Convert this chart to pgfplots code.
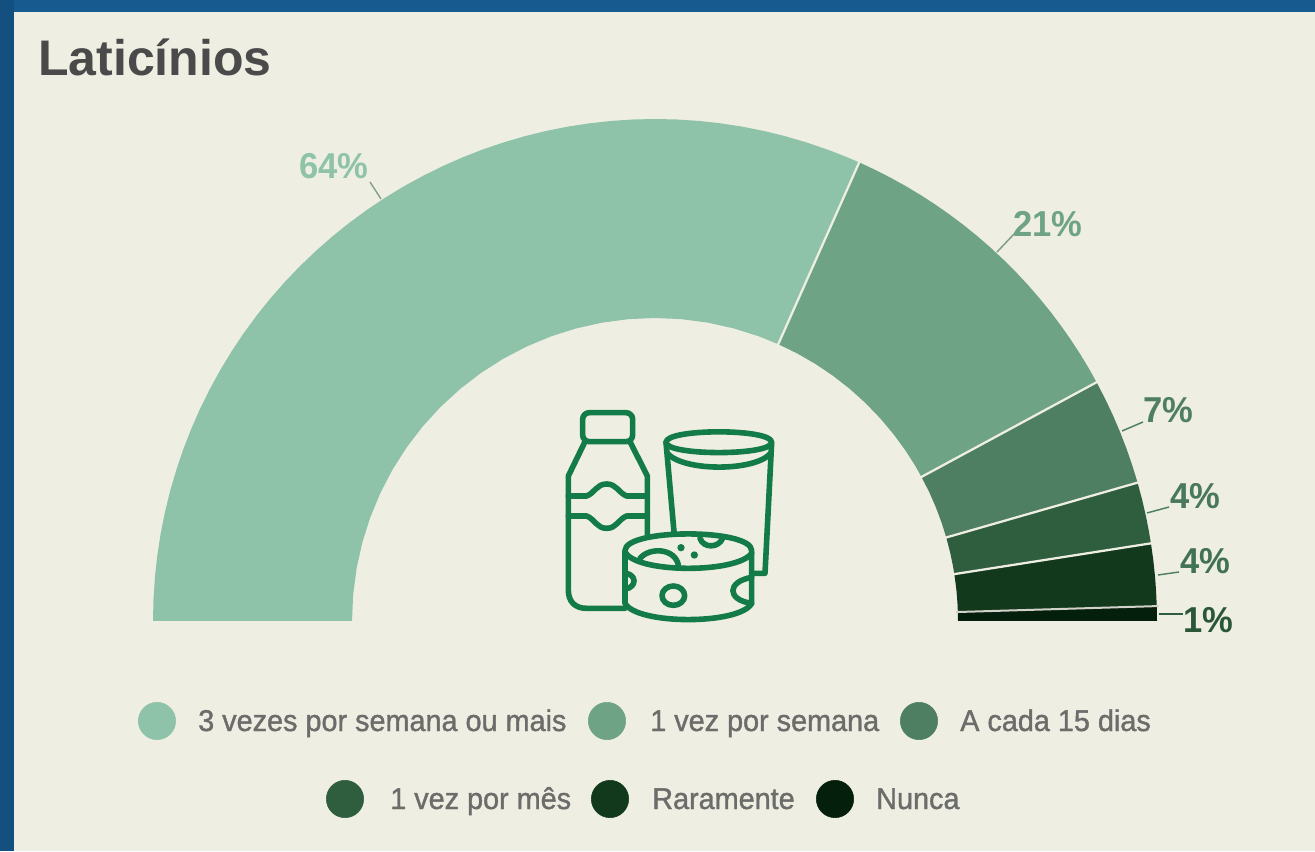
\documentclass[border=0pt]{standalone}
\usepackage{pgfplots}
\pgfplotsset{compat=1.18}
\usepackage{fontspec}
\setmainfont{Liberation Sans}
\newfontfamily\titlef{Liberation Sans}[BoldFont={Liberation Sans Bold}]
\newfontfamily\labf{Liberation Sans Bold}[FakeStretch=0.96]
\newfontfamily\legf{Liberation Sans}[FakeStretch=0.96,FakeBold=1.2]
\definecolor{bgA}{HTML}{EFEEE3}
\definecolor{blueA}{HTML}{175A90}
\definecolor{blueB}{HTML}{13507F}
\definecolor{cA}{HTML}{8FC3A9}
\definecolor{cB}{HTML}{6FA385}
\definecolor{cC}{HTML}{4F7F62}
\definecolor{cD}{HTML}{2F5E3E}
\definecolor{cE}{HTML}{12391C}
\definecolor{cF}{HTML}{04200C}
\definecolor{tlc}{HTML}{4A4A4A}
\definecolor{lgc}{HTML}{6C6C6A}
\definecolor{ico}{HTML}{137B47}
\definecolor{lead}{HTML}{7E9C8B}
\begin{document}
\begin{tikzpicture}
% background, in picture pixels (origin top left)
\begin{scope}[shift={(0,638.25pt)},x=0.75pt,y=-0.75pt]
\fill[blueB] (0,0) rectangle (1315,851);
\fill[blueA] (14,0) rectangle (1315,12);
\fill[bgA] (14,12) rectangle (1315,851);
\end{scope}
\begin{axis}[
  at={(0,0)},anchor=south west,
  scale only axis,width=986.25pt,height=638.25pt,
  xmin=-655,xmax=660,ymin=-230,ymax=621,
  hide axis,clip=false,no markers]
% 64 %
\addplot[data cs=polar,fill=cA,draw=none] coordinates {
(180,502)(177.5,502)(175,502)(172.5,502)(170,502)(167.5,502)(165,502)(162.5,502)(160,502)(157.5,502)(155,502)(152.5,502)(150,502)(147.5,502)(145,502)(142.5,502)(140,502)(137.5,502)(135,502)(132.5,502)(130,502)(127.5,502)(125,502)(122.5,502)(120,502)(117.5,502)(115,502)(112.5,502)(110,502)(107.5,502)(105,502)(102.5,502)(100,502)(97.5,502)(95,502)(92.5,502)(90,502)(87.5,502)(85,502)(82.5,502)(80,502)(77.5,502)(75,502)(72.5,502)(70,502)(68,502)(66,502)
(66,303)(70,303)(75,303)(80,303)(85,303)(90,303)(95,303)(100,303)(105,303)(110,303)(115,303)(120,303)(125,303)(130,303)(135,303)(140,303)(145,303)(150,303)(155,303)(160,303)(165,303)(170,303)(175,303)(180,303)};
% 21 %
\addplot[data cs=polar,fill=cB,draw=none] coordinates {
(66,502)(64,502)(62,502)(60,502)(58,502)(56,502)(54,502)(52,502)(50,502)(48,502)(46,502)(44,502)(42,502)(40,502)(38,502)(36,502)(34,502)(32,502)(30,502)(28.4,502)
(28.4,303)(31,303)(34,303)(38,303)(42,303)(46,303)(50,303)(54,303)(58,303)(62,303)(66,303)};
% 7 %
\addplot[data cs=polar,fill=cC,draw=none] coordinates {
(28.4,502)(26,502)(24,502)(22,502)(20,502)(18,502)(16,502)(16,303)(19,303)(22,303)(25,303)(28.4,303)};
% 4 %
\addplot[data cs=polar,fill=cD,draw=none] coordinates {
(16,502)(14,502)(12,502)(10.5,502)(8.9,502)(8.9,303)(10.5,303)(13,303)(16,303)};
% 4 %
\addplot[data cs=polar,fill=cE,draw=none] coordinates {
(8.9,502)(7,502)(5,502)(3.5,502)(1.7,502)(1.7,303)(3.5,303)(6,303)(8.9,303)};
% 1 %
\addplot[data cs=polar,fill=cF,draw=none] coordinates {
(1.7,502)(0,502)(0,303)(1.7,303)};
% separators
\addplot[data cs=polar,bgA,line width=1.7pt] coordinates {(66,301)(66,504)};
\addplot[data cs=polar,bgA,line width=1.7pt] coordinates {(28.4,301)(28.4,504)};
\addplot[data cs=polar,bgA,line width=1.7pt] coordinates {(16,301)(16,504)};
\addplot[data cs=polar,bgA,line width=1.7pt] coordinates {(8.9,301)(8.9,504)};
\addplot[data cs=polar,bgA!75!gray,line width=1.5pt] coordinates {(1.7,301)(1.7,504)};
% legend marks
\addplot[only marks,mark=*,mark size=14pt,cA,mark options={draw=none,fill=cA}] coordinates {(-498,-100)};
\addplot[only marks,mark=*,mark size=14pt,cB,mark options={draw=none,fill=cB}] coordinates {(-48,-100)};
\addplot[only marks,mark=*,mark size=14pt,cC,mark options={draw=none,fill=cC}] coordinates {(264,-100)};
\addplot[only marks,mark=*,mark size=14pt,cD,mark options={draw=none,fill=cD}] coordinates {(-310,-178)};
\addplot[only marks,mark=*,mark size=14pt,cE,mark options={draw=none,fill=cE}] coordinates {(-45,-178)};
\addplot[only marks,mark=*,mark size=14pt,cF,mark options={draw=none,fill=cF}] coordinates {(180,-178)};
\end{axis}
% text, leaders and icon, in picture pixels
\begin{scope}[shift={(0,638.25pt)},x=0.75pt,y=-0.75pt]
\node[anchor=base west,inner sep=0pt,text=tlc] at (38,76) {\fontsize{37.5pt}{40pt}\titlef\bfseries Laticínios};
\draw[lead,line width=1pt] (370,182)--(381,199);
\draw[lead,line width=1.1pt] (997,252)--(1015,233);
\draw[cC,line width=1.1pt] (1122,431)--(1143,422);
\draw[cC,line width=1.1pt] (1147,513)--(1169,507);
\draw[cC,line width=1.1pt] (1158,575)--(1179,572);
\draw[cD,line width=1.1pt] (1159,614)--(1183,614);
\tikzset{lab/.style={anchor=base west,inner sep=0pt},lg/.style={anchor=base west,inner sep=0pt,text=lgc}}
\newcommand\lfn{\fontsize{27pt}{30pt}\labf}
\node[lab,text=cA] at (299,179) {\lfn 64\%};
\node[lab,text=cB] at (1013,237) {\lfn 21\%};
\node[lab,text=cC] at (1143,423) {\lfn 7\%};
\node[lab,text=cC!80!cD] at (1170,509) {\lfn 4\%};
\node[lab,text=cC!60!cD] at (1180,574) {\lfn 4\%};
\node[lab,text=cD!80!cE] at (1183,632) {\lfn 1\%};
\newcommand\gfn{\fontsize{22.5pt}{25pt}\legf}
\node[lg] at (198,731) {\gfn 3 vezes por semana ou mais};
\node[lg] at (650,731) {\gfn 1 vez por semana};
\node[lg] at (960,731) {\gfn A cada 15 dias};
\node[lg] at (390,809) {\gfn 1 vez por mês};
\node[lg] at (652,809) {\gfn Raramente};
\node[lg] at (876,809) {\gfn Nunca};
\end{scope}
% icon, in the coordinates of the 3x crop at (540,390)
\begin{scope}[shift={(405pt,345.75pt)},x=0.25pt,y=-0.25pt,ico,line width=4.2pt,line cap=round,line join=round]
% bottle
\draw[rounded corners=5pt] (128,68) rectangle (278,155);
\draw (135,155)--(85,258)--(85,600) .. controls (85,635) and (105,655) .. (140,655)--(255,655);
\draw (270,155)--(322,258)--(322,435);
\draw (85,318)--(140,318) .. controls (165,308) and (170,282) .. (200,282) .. controls (230,282) and (235,308) .. (260,318)--(322,318);
\draw (85,378)--(140,378) .. controls (165,388) and (170,415) .. (200,415) .. controls (230,415) and (235,388) .. (260,378)--(322,378);
% glass
\draw (378,157) .. controls (378,115) and (695,115) .. (695,157) .. controls (695,198) and (378,198) .. (378,157);
\draw (382,190) .. controls (430,245) and (645,245) .. (692,190);
\draw (378,157)--(402,425);
\draw (695,157)--(675,550)--(635,550);
% cheese
\filldraw[fill=bgA] (255,482) .. controls (255,415) and (635,415) .. (635,482)--(635,640) .. controls (600,705) and (290,705) .. (255,640)--cycle;
\draw (258,490) .. controls (300,550) and (590,550) .. (635,490);
\draw (300,505) .. controls (330,470) and (405,475) .. (415,525);
\draw (480,445) .. controls (490,475) and (535,475) .. (548,445);
\fill (423,473) circle[radius=11];
\fill (463,495) circle[radius=11];
\draw (400,617) circle[x radius=34,y radius=29];
\draw (258,550) .. controls (290,555) and (290,590) .. (258,597);
\draw (635,562) .. controls (560,575) and (560,630) .. (635,640);
\end{scope}
\end{tikzpicture}
\end{document}
